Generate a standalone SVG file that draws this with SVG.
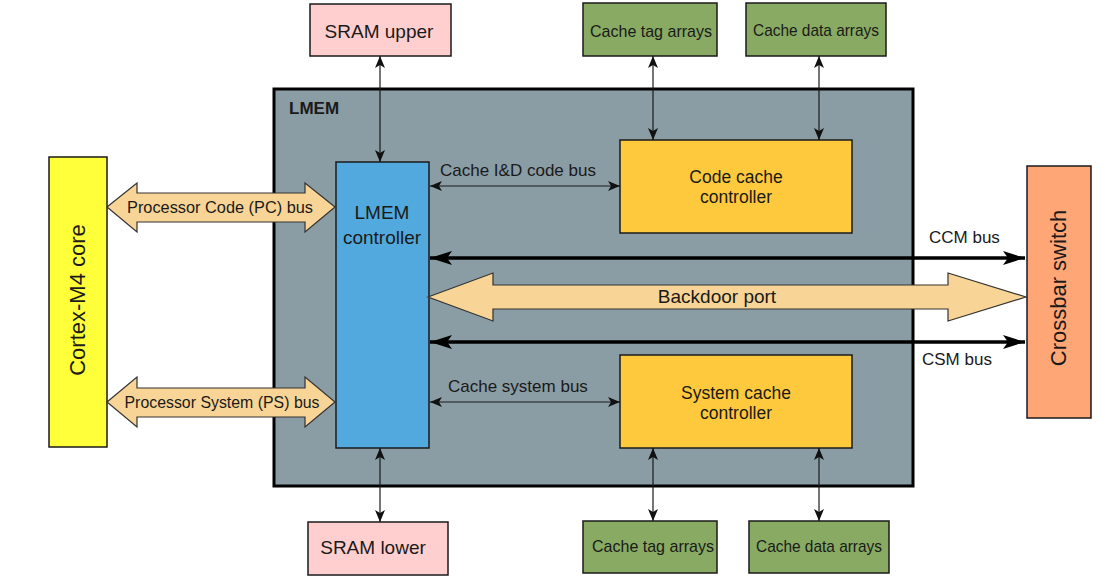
<svg xmlns="http://www.w3.org/2000/svg" width="1115" height="583" viewBox="0 0 1115 583">
<defs>
<style>
text{font-family:"Liberation Sans",Arial,sans-serif;fill:#1a1a1a;}
.box{stroke:#1a1a1a;stroke-width:1.5;}
.thin{stroke:#1a1a1a;stroke-width:1.2;fill:none;marker-start:url(#ah);marker-end:url(#ah);}
.thick{stroke:#000;stroke-width:3.5;fill:none;marker-start:url(#ahb);marker-end:url(#ahb);}
.blk{fill:#f8d596;stroke:#333;stroke-width:1.2;}
.c{text-anchor:middle;}
</style>
<marker id="ah" viewBox="0 0 12 10" refX="12" refY="5" markerWidth="12" markerHeight="10" markerUnits="userSpaceOnUse" orient="auto-start-reverse">
<path d="M0,0 L12,5 L0,10 L3,5 z" fill="#111"/>
</marker>
<marker id="ahb" viewBox="0 0 22 14" refX="22" refY="7" markerWidth="22" markerHeight="14" markerUnits="userSpaceOnUse" orient="auto-start-reverse">
<path d="M0,0 L22,7 L0,14 L5,7 z" fill="#000"/>
</marker>
</defs>
<rect width="1115" height="583" fill="#fff"/>

<g id="lmem">
<rect x="274" y="89" width="639" height="397" fill="#8a9ca4" stroke="#000" stroke-width="3"/>
<text x="289" y="114" font-size="17" font-weight="bold">LMEM</text>
</g>

<g id="cortex">
<rect class="box" x="49" y="157" width="58" height="290" fill="#ffff3a"/>
<text class="c" transform="translate(85,300) rotate(-90)" font-size="22">Cortex-M4 core</text>
</g>

<g id="lmem-controller">
<rect class="box" x="336" y="162" width="93" height="286" fill="#52a9dd"/>
<text class="c" x="382" y="219" font-size="19">LMEM</text>
<text class="c" x="382" y="244" font-size="19">controller</text>
</g>

<g id="code-cache">
<rect class="box" x="620" y="140" width="232" height="93" fill="#ffc93d"/>
<text class="c" x="736" y="183" font-size="17.5">Code cache</text>
<text class="c" x="736" y="203" font-size="17.5">controller</text>
</g>

<g id="system-cache">
<rect class="box" x="620" y="355" width="232" height="93" fill="#ffc93d"/>
<text class="c" x="736" y="399" font-size="17.5">System cache</text>
<text class="c" x="736" y="419" font-size="17.5">controller</text>
</g>

<g id="crossbar">
<rect class="box" x="1027" y="166" width="64" height="252" fill="#ffa677"/>
<text class="c" transform="translate(1066,288) rotate(-90)" font-size="22">Crossbar switch</text>
</g>

<g id="sram-upper">
<rect class="box" x="310" y="4" width="141" height="52" fill="#ffcfcf"/>
<text class="c" x="379" y="38" font-size="19">SRAM upper</text>
</g>
<g id="tag-top">
<rect class="box" x="583" y="3" width="134" height="53" fill="#88aa62"/>
<text class="c" x="651" y="37" font-size="17" textLength="122" lengthAdjust="spacingAndGlyphs">Cache tag arrays</text>
</g>
<g id="data-top">
<rect class="box" x="746" y="3" width="140" height="53" fill="#88aa62"/>
<text class="c" x="816" y="36" font-size="17" textLength="126" lengthAdjust="spacingAndGlyphs">Cache data arrays</text>
</g>
<g id="sram-lower">
<rect class="box" x="308" y="522" width="140" height="53" fill="#ffcfcf"/>
<text class="c" x="373" y="554" font-size="19">SRAM lower</text>
</g>
<g id="tag-bottom">
<rect class="box" x="583" y="521" width="134" height="52" fill="#88aa62"/>
<text class="c" x="653" y="552" font-size="17" textLength="122" lengthAdjust="spacingAndGlyphs">Cache tag arrays</text>
</g>
<g id="data-bottom">
<rect class="box" x="749" y="521" width="140" height="52" fill="#88aa62"/>
<text class="c" x="819" y="552" font-size="17" textLength="126" lengthAdjust="spacingAndGlyphs">Cache data arrays</text>
</g>

<g id="connectors">
<polygon class="blk" points="107,207 137,183 137,193 305,193 305,183 335,207 305,232 305,222 137,222 137,232"/>
<text class="c" x="220" y="213" font-size="17" textLength="186" lengthAdjust="spacingAndGlyphs">Processor Code (PC) bus</text>
<polygon class="blk" points="107,402 137,377 137,388 305,388 305,377 335,402 305,427 305,417 137,417 137,427"/>
<text class="c" x="222" y="408" font-size="17" textLength="195" lengthAdjust="spacingAndGlyphs">Processor System (PS) bus</text>
<polygon class="blk" points="428,297 493,273 493,285 948,285 948,273 1026,297 948,321 948,309 493,309 493,321"/>
<text class="c" x="717" y="303" font-size="19">Backdoor port</text>

<line class="thick" x1="430" y1="258" x2="1025" y2="258"/>
<text x="929" y="243" font-size="17">CCM bus</text>
<line class="thick" x1="430" y1="342" x2="1025" y2="342"/>
<text x="922" y="365" font-size="17">CSM bus</text>

<line class="thin" x1="430" y1="186" x2="620" y2="186"/>
<text x="440" y="176" font-size="17">Cache I&amp;D code bus</text>
<line class="thin" x1="430" y1="402" x2="620" y2="402"/>
<text x="448" y="392" font-size="17">Cache system bus</text>

<line class="thin" x1="380" y1="56" x2="380" y2="162"/>
<line class="thin" x1="653" y1="56" x2="653" y2="140"/>
<line class="thin" x1="819" y1="56" x2="819" y2="140"/>
<line class="thin" x1="380" y1="448" x2="380" y2="522"/>
<line class="thin" x1="653" y1="448" x2="653" y2="521"/>
<line class="thin" x1="819" y1="448" x2="819" y2="521"/>
</g>
</svg>
